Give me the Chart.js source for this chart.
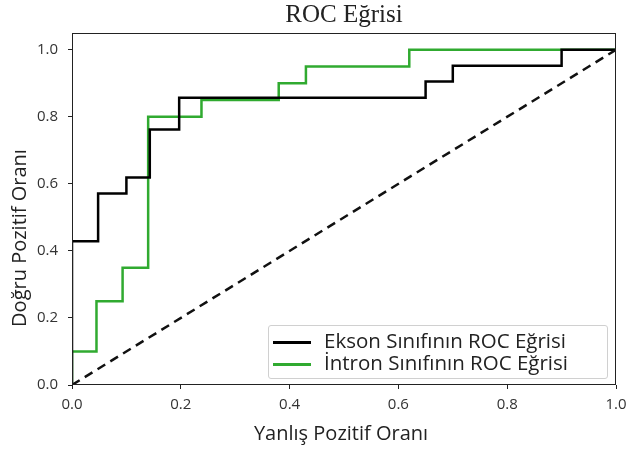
<!DOCTYPE html>
<html>
<head>
<meta charset="utf-8">
<script src="https://cdn.jsdelivr.net/npm/chart.js@4.4.0/dist/chart.umd.min.js"></script>
<style>
  html, body { margin: 0; padding: 0; background: #fff; }
  #wrap { position: relative; width: 628px; height: 454px; }
  #legend {
    position: absolute; left: 268px; top: 325px; width: 338px; height: 52px;
    border: 1px solid #d0d0d0; border-radius: 3px; background: rgba(255,255,255,0.85);
    font-family: "Open Sans", sans-serif; font-size: 20.5px; color: #222;
  }
  .row { position: absolute; left: 4px; height: 22px; line-height: 22px; white-space: nowrap; }
  .sw { display: inline-block; width: 38px; height: 3px; vertical-align: middle; margin-right: 13px; }
</style>
</head>
<body>
<div id="wrap">
  <canvas id="chart" width="628" height="454"></canvas>
  <div id="legend"></div>
</div>
<script>
// ROC verileri
var eksonFpr = [0, 0, 0.048, 0.048, 0.1, 0.1, 0.143, 0.143, 0.197, 0.197, 0.65, 0.65, 0.70, 0.70, 0.90, 0.90, 1.0];
var eksonTpr = [0, 0.429, 0.429, 0.571, 0.571, 0.619, 0.619, 0.762, 0.762, 0.857, 0.857, 0.905, 0.905, 0.952, 0.952, 1.0, 1.0];
var intronFpr = [0, 0, 0.045, 0.045, 0.093, 0.093, 0.14, 0.14, 0.238, 0.238, 0.38, 0.38, 0.43, 0.43, 0.62, 0.62, 1.0];
var intronTpr = [0, 0.10, 0.10, 0.25, 0.25, 0.35, 0.35, 0.80, 0.80, 0.85, 0.85, 0.90, 0.90, 0.95, 0.95, 1.0, 1.0];
var diagX = [0, 1];
var diagY = [0, 1];
var xTicks = [0, 0.2, 0.4, 0.6, 0.8, 1.0];
var yTicks = [0, 0.2, 0.4, 0.6, 0.8, 1.0];
var seriesNames = ['Ekson Sınıfının ROC Eğrisi', 'İntron Sınıfının ROC Eğrisi'];
var seriesColors = ['#000000', 'rgb(48,170,48)'];
var chartTitle = 'ROC Eğrisi';
var xTitle = 'Yanlış Pozitif Oranı';
var yTitle = 'Doğru Pozitif Oranı';

function toPoints(xs, ys) {
    return xs.map(function(x, i) { return { x: x, y: ys[i] }; });
}

// cerceve + basliklar
var frame = {
    id: 'frame',
    afterDraw: function(chart) {
        var a = chart.chartArea, c = chart.ctx;
        c.save();
        c.strokeStyle = '#222';
        c.lineWidth = 1;
        c.strokeRect(a.left + 0.5, a.top + 0.5, a.right - a.left - 1, a.bottom - a.top - 1);
        c.fillStyle = '#222';
        c.textAlign = 'center';
        c.textBaseline = 'middle';
        c.font = '25px "Liberation Serif"';
        c.fillText(chartTitle, (a.left + a.right) / 2, 15);
        c.font = '20px "Open Sans"';
        c.fillText(xTitle, 341, 434);
        c.translate(20, 238);
        c.rotate(-Math.PI / 2);
        c.fillText(yTitle, 0, 0);
        c.restore();
    }
};

var tickFont = { family: 'Open Sans', size: 15 };

var ctx = document.getElementById('chart').getContext('2d');
var chart = new Chart(ctx, {
    type: 'scatter',
    data: {
        datasets: [{
            label: seriesNames[0],
            data: toPoints(eksonFpr, eksonTpr),
            borderColor: seriesColors[0],
            borderWidth: 2.5,
            showLine: true,
            pointRadius: 0,
            order: 2
        }, {
            label: seriesNames[1],
            data: toPoints(intronFpr, intronTpr),
            borderColor: seriesColors[1],
            borderWidth: 2.5,
            showLine: true,
            pointRadius: 0,
            order: 3
        }, {
            label: 'diag',
            data: toPoints(diagX, diagY),
            borderColor: '#111',
            borderWidth: 2.5,
            borderDash: [9, 6],
            showLine: true,
            pointRadius: 0,
            order: 1
        }]
    },
    options: {
        responsive: false,
        animation: false,
        layout: { padding: { left: 0, right: 12, top: 33, bottom: 0 } },
        plugins: {
            legend: { display: false },
            tooltip: { enabled: false },
            title: { display: false }
        },
        scales: {
            x: {
                type: 'linear', min: 0, max: 1,
                grid: { display: true, drawOnChartArea: false, drawTicks: true, tickLength: 4, color: '#222' },
                border: { display: false },
                afterBuildTicks: function(s) { s.ticks = xTicks.map(function(v) { return { value: v }; }); },
                ticks: { color: '#333', font: tickFont, padding: 7, maxRotation: 0,
                    callback: function(v) { return Number(v).toFixed(1); } },
                afterFit: function(s) { s.height = 69; s.paddingLeft = 0; s.paddingRight = 0; }
            },
            y: {
                type: 'linear', min: 0, max: 1.05,
                grid: { display: true, drawOnChartArea: false, drawTicks: true, tickLength: 4, color: '#222' },
                border: { display: false },
                afterBuildTicks: function(s) { s.ticks = yTicks.map(function(v) { return { value: v }; }); },
                ticks: { color: '#333', font: tickFont, padding: 10,
                    callback: function(v) { return Number(v).toFixed(1); } },
                afterFit: function(s) { s.width = 72; s.paddingTop = 0; s.paddingBottom = 0; }
            }
        }
    },
    plugins: [frame]
});

// legend inside plot, like matplotlib
var lg = document.getElementById('legend');
seriesNames.forEach(function(name, i) {
    var row = document.createElement('div');
    row.className = 'row';
    row.style.top = (3 + i * 22) + 'px';
    row.innerHTML = '<span class="sw" style="background:' + seriesColors[i] + '"></span>' + name;
    lg.appendChild(row);
});
</script>
</body>
</html>
